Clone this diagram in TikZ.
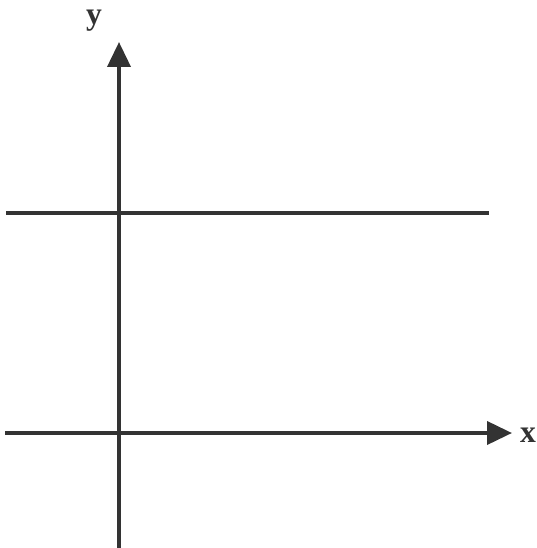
\documentclass[tikz,border=0pt]{standalone}
\usepackage{fontspec}
\setmainfont{Liberation Serif}
\usetikzlibrary{arrows.meta}
\definecolor{axisgray}{HTML}{333333}
\begin{document}
\begin{tikzpicture}[x=0.02cm, y=-0.02cm,
    axis/.style={draw=axisgray, line width=2.2pt, -{Triangle[length=0.5cm, width=0.46cm]}},
    level/.style={draw=axisgray, line width=2.2pt},
    axislabel/.style={text=axisgray, font=\fontsize{18}{22}\selectfont\bfseries, inner sep=0pt}]
  \useasboundingbox (0,0) rectangle (537,548);

  % Axis end points
  \coordinate (ybottom) at (119,548);
  \coordinate (ytip) at (119,42);
  \coordinate (xleft) at (5,433);
  \coordinate (xtip) at (512,433);

  % Horizontal line above the x axis
  \coordinate (lineleft) at (6,213);
  \coordinate (lineright) at (489,213);

  % Axes
  \draw[axis] (ybottom) -- (ytip);
  \draw[axis] (xleft) -- (xtip);
  \node[axislabel] (ylabel) at (94,21) {y};
  \node[axislabel] (xlabel) at (528,435) {x};

  % The line
  \draw[level] (lineleft) -- (lineright);
\end{tikzpicture}
\end{document}
